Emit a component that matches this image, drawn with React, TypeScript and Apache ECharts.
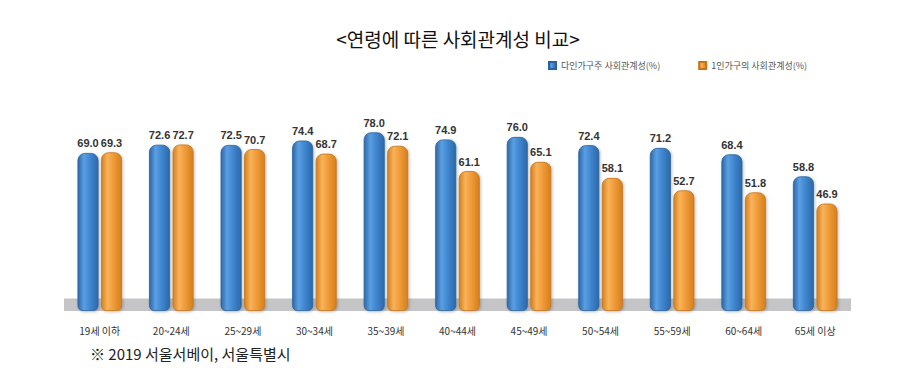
import React, { useEffect, useRef } from "react";
import * as echarts from "echarts";

const categories = ["19세 이하", "20~24세", "25~29세", "30~34세", "35~39세", "40~44세", "45~49세", "50~54세", "55~59세", "60~64세", "65세 이상"];
const multiPerson = [69.0, 72.6, 72.5, 74.4, 78.0, 74.9, 76.0, 72.4, 71.2, 68.4, 58.8];
const singlePerson = [69.3, 72.7, 70.7, 68.7, 72.1, 61.1, 65.1, 58.1, 52.7, 51.8, 46.9];
const seriesNames = ["다인가구주 사회관계성(%)", "1인가구의 사회관계성(%)"];
const titleText = "<연령에 따른 사회관계성 비교>";
const footnote = "※ 2019 서울서베이, 서울특별시";

const FONT = "'Noto Sans CJK KR', 'Noto Sans', sans-serif";

function grad(dark: string, light: string, mid: string) {
  return new echarts.graphic.LinearGradient(0, 0, 1, 0, [
    { offset: 0, color: dark },
    { offset: 0.3, color: light },
    { offset: 0.6, color: mid },
    { offset: 1, color: dark },
  ]);
}

export default function App() {
  const ref = useRef<HTMLDivElement>(null);
  useEffect(() => {
    if (!ref.current) return;
    const chart = echarts.init(ref.current, undefined, { renderer: "svg" });
    const labelStyle = {
      show: true,
      position: "top" as const,
      distance: 4,
      fontSize: 11,
      fontWeight: "bold" as const,
      color: "#333",
      fontFamily: "Arial, 'Liberation Sans', sans-serif",
      formatter: (p: any) => Number(p.value).toFixed(1),
    };
    chart.setOption({
      animation: false,
      backgroundColor: "#fff",
      title: {
        text: titleText,
        left: "center",
        top: 24,
        textStyle: { fontSize: 19, fontWeight: "normal", color: "#111", fontFamily: FONT },
      },
      legend: {
        data: seriesNames,
        top: 56,
        left: 543,
        itemWidth: 7,
        itemHeight: 7,
        itemGap: 38,
        icon: "rect",
        textStyle: { fontSize: 9, color: "#555", fontFamily: FONT },
      },
      grid: { left: 64, right: 65, top: 82, bottom: 65 },
      xAxis: {
        type: "category",
        data: categories,
        axisLine: { show: false },
        axisTick: { show: false },
        axisLabel: { interval: 0, margin: 14, fontSize: 10, color: "#333", fontFamily: FONT },
      },
      yAxis: { type: "value", min: 0, max: 100, show: false },
      graphic: [
        {
          type: "text",
          left: 90,
          top: 346,
          style: { text: footnote, fill: "#222", font: `15px ${FONT}` },
        },
      ],
      series: [
        {
          name: seriesNames[0],
          type: "bar",
          data: multiPerson,
          barWidth: 21,
          barGap: "12%",
          itemStyle: {
            color: grad("#2c68a8", "#5b9fe2", "#3f86cf"),
            borderRadius: [7, 7, 5, 5],
            borderColor: "#2a62a0",
            borderWidth: 0.8,
            shadowColor: "rgba(0,0,0,0.25)",
            shadowBlur: 3,
            shadowOffsetX: 1,
            shadowOffsetY: 1,
          },
          label: labelStyle,
          markArea: {
            silent: true,
            itemStyle: { color: "#c5c5c7" },
            data: [[{ yAxis: -1 }, { yAxis: 5.5 }]],
          },
        },
        {
          name: seriesNames[1],
          type: "bar",
          data: singlePerson,
          barWidth: 21,
          itemStyle: {
            color: grad("#d4801e", "#f8b35a", "#f09a38"),
            borderRadius: [7, 7, 5, 5],
            borderColor: "#c67418",
            borderWidth: 0.8,
            shadowColor: "rgba(0,0,0,0.25)",
            shadowBlur: 3,
            shadowOffsetX: 1,
            shadowOffsetY: 1,
          },
          label: labelStyle,
        },
      ],
    });
    return () => chart.dispose();
  }, []);
  return <div ref={ref} style={{ position: "fixed", left: 0, top: 0, width: 916, height: 376 }} />;
}
